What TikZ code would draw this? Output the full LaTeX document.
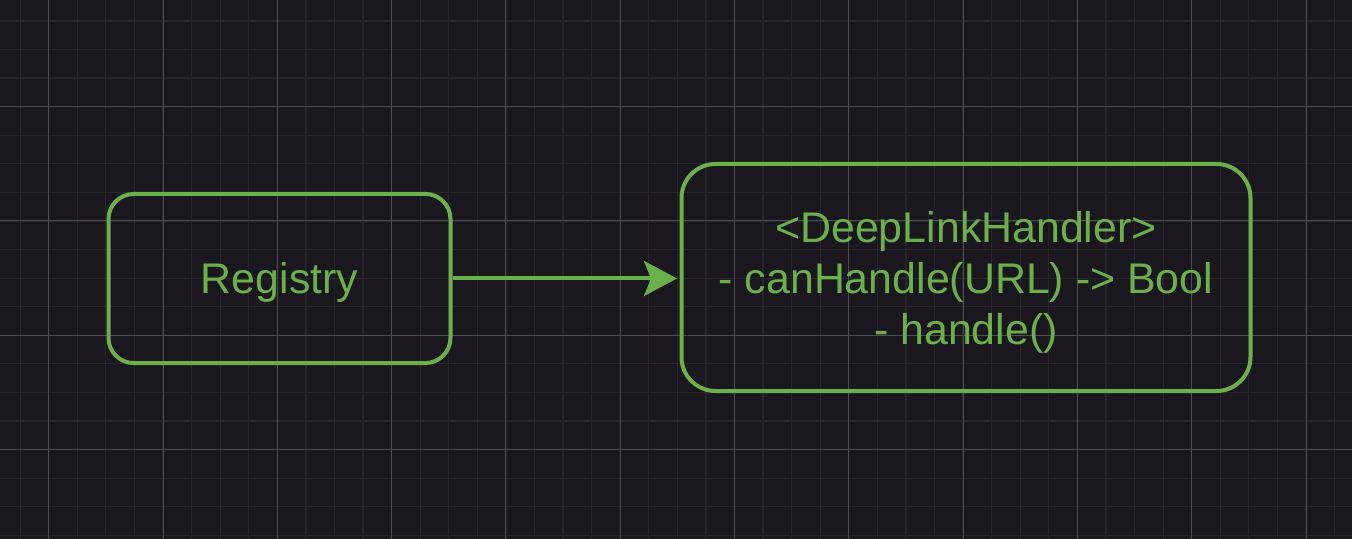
\documentclass[tikz,border=0pt]{standalone}
\usepackage{fontspec}
\setmainfont{Liberation Sans}
\usetikzlibrary{arrows.meta}
\definecolor{bgdark}{RGB}{26,24,30}
\definecolor{gridminor}{RGB}{40,38,45}
\definecolor{gridmajor}{RGB}{78,77,82}
\definecolor{boxgreen}{RGB}{108,176,76}
\begin{document}
\begin{tikzpicture}[
    greenbox/.style={draw=boxgreen, line width=0.08cm, inner sep=0pt},
    greentext/.style={text=boxgreen, align=center, inner sep=0pt,
      font=\fontsize{24.4}{28.8}\selectfont},
    linkarrow/.style={draw=boxgreen, line width=0.08cm, shorten >=0.05cm,
      -{Stealth[length=0.66cm, width=0.70cm, inset=0.14cm]}}
  ]
            \useasboundingbox (0.000000,0.000000) rectangle (27.040000,10.760000);
            \fill [bgdark] (-0.100000,-0.100000) rectangle (27.140000,10.860000);%
            
            % Drawing grid, minor and major lines
            \begin{scope}
            \clip (-0.100000,-0.100000) rectangle (27.140000,10.860000);
            \draw [gridminor, line width=0.025cm, shift={(0.974000,1.768000)}, step=0.571500] (-2.000000,-2.000000) grid (27.000000,10.000000);%
            \draw [gridmajor, line width=0.020cm, shift={(0.974000,1.768000)}, step=2.286000] (-2.286000,-2.286000) grid (27.432000,11.430000);%
            \end{scope}
            
            % Drawing box Registry
            \node (registry) [greenbox, rounded corners=0.50cm, minimum width=6.840000cm, minimum height=3.380000cm]
              at (5.590000,5.190000) {};%
            \node (registrytext) [greentext] at ([yshift=-0.080000cm]registry.center) {Registry};%
            
            % Drawing box DeepLinkHandler
            \node (handler) [greenbox, rounded corners=0.68cm, minimum width=11.380000cm, minimum height=4.540000cm]
              at (19.320000,5.210000) {};%
            \node (handlertext) [greentext] at ([yshift=-0.100000cm]handler.center)
              {<DeepLinkHandler>\\- canHandle(URL) -> Bool\\- handle()};%
            
            % Drawing arrow from Registry to handler
            \draw [linkarrow] (registry.east) -- (registry.east -| handler.west);%
\end{tikzpicture}
\end{document}
